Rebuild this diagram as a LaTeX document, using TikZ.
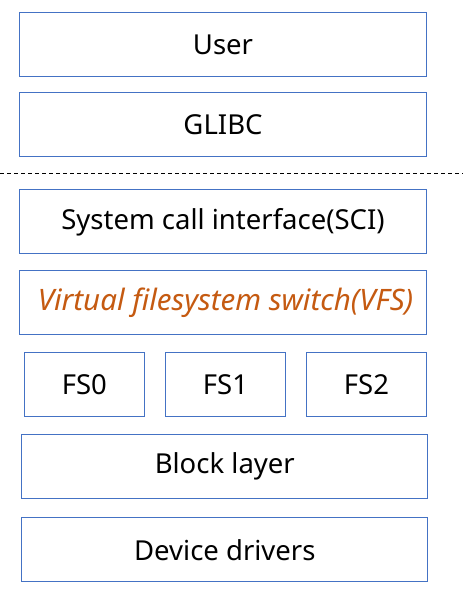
\documentclass[tikz,border=0pt]{standalone}
\usepackage{fontspec}
\setmainfont{Noto Sans}
\definecolor{boxblue}{HTML}{4472C4}
\definecolor{vfsorange}{HTML}{C55A11}
\begin{document}
\begin{tikzpicture}[x=1pt,y=-1pt,
  layer/.style={draw=boxblue,line width=1pt,fill=white,inner sep=0pt,anchor=north west,
    font=\fontsize{27.5}{32}\selectfont,text=black}]
\useasboundingbox (0,0) rectangle (463,596);
\node[layer,minimum width=406.4pt,minimum height=64pt] (user) at (19.3,12.3) {User};
\node[layer,minimum width=406.4pt,minimum height=64pt] (glibc) at (19.3,92.3) {GLIBC};
\coordinate (dl) at (0,173.3);
\coordinate (dr) at (463,173.3);
\draw[line width=0.9pt,dash pattern=on 4pt off 3pt] (dl) -- (dr);
\node[layer,minimum width=406.4pt,minimum height=64pt] (sci) at (19.3,189.3) {System call interface(SCI)};
\node[layer,minimum width=406.4pt,minimum height=64pt,text=vfsorange,font=\fontsize{29.5}{34}\selectfont\itshape] (vfs) at (19.3,270.3) {\hspace*{5pt}Virtual filesystem switch(VFS)};
\node[layer,minimum width=119.7pt,minimum height=64pt] (fs0) at (24,352.3) {FS0};
\node[layer,minimum width=119.4pt,minimum height=64pt] (fs1) at (165.3,352.3) {FS1};
\node[layer,minimum width=119.4pt,minimum height=64pt] (fs2) at (306.3,352.3) {FS2};
\node[layer,minimum width=406pt,minimum height=64pt] (block) at (21.3,434.3) {Block layer};
\node[layer,minimum width=406pt,minimum height=64pt] (dev) at (21.3,517.3) {Device drivers};
\end{tikzpicture}
\end{document}
